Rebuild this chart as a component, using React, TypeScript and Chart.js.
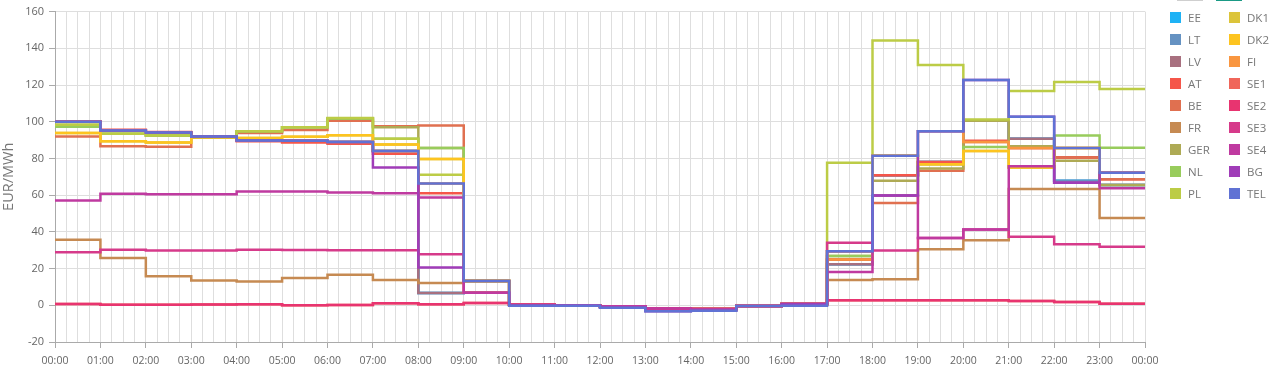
import React, { useEffect, useRef } from 'react';
import { Chart, registerables } from 'chart.js';

Chart.register(...registerables);

// x tick labels (one per hour boundary)
const X_LABELS = [
  '00:00', '01:00', '02:00', '03:00', '04:00', '05:00', '06:00', '07:00', '08:00',
  '09:00', '10:00', '11:00', '12:00', '13:00', '14:00', '15:00', '16:00', '17:00',
  '18:00', '19:00', '20:00', '21:00', '22:00', '23:00', '00:00',
];

const SERIES_NAMES = ['EE', 'LT', 'LV', 'AT', 'BE', 'FR', 'GER', 'NL', 'PL', 'DK1', 'DK2', 'FI', 'SE1', 'SE2', 'SE3', 'SE4', 'BG', 'TEL'];
const SERIES_COLORS = [
  '#1eb2f5', '#6592c2', '#a8707f', '#f5564a', '#e07050', '#c68a52', '#aeaa55', '#98cc5c', '#bccc46',
  '#dcc43a', '#fdc420', '#f99640', '#f0665a', '#e83470', '#d63a8a', '#bf3aa0', '#a03cb8', '#6072d4',
];

// hourly prices, EUR/MWh (hours 00..23)
const EE = [100.0, 95.2, 94.1, 92.0, 89.8, 89.6, 89.0, 84.0, 6.7, 6.8, 0.2, 0.0, -0.5, -1.8, -2.0, -0.4, 0.7, 22.4, 70.8, 78.1, 100.5, 90.7, 67.9, 65.6];
const LT = [100.0, 95.2, 94.1, 92.0, 89.8, 89.6, 89.0, 84.0, 6.7, 6.8, 0.2, 0.0, -0.5, -1.8, -2.0, -0.4, 0.7, 22.4, 70.8, 78.1, 100.5, 90.7, 67.9, 65.6];
const LV = [100.0, 95.2, 94.1, 92.0, 89.8, 89.6, 89.0, 84.0, 6.7, 6.8, 0.2, 0.0, -0.5, -1.8, -2.0, -0.4, 0.7, 22.4, 70.8, 78.1, 100.5, 90.7, 80.5, 65.6];
const AT = [100.3, 95.6, 94.4, 91.5, 89.3, 88.7, 88.0, 82.6, 61.0, 13.3, 0.2, 0.0, -0.5, -1.8, -2.0, -0.4, 0.7, 25.0, 70.8, 78.1, 89.6, 85.7, 80.5, 68.6];
const BE = [92.0, 86.7, 86.4, 91.5, 93.9, 95.5, 100.6, 97.5, 98.0, 13.3, 0.2, 0.0, -0.5, -1.8, -2.0, -0.4, 0.7, 25.0, 55.7, 73.3, 88.9, 85.7, 80.5, 68.6];
const FR = [35.7, 25.7, 15.8, 13.5, 12.9, 14.9, 16.7, 13.8, 12.2, 13.3, 0.2, 0.0, -0.5, -1.8, -2.0, -0.4, 0.7, 13.8, 14.2, 30.5, 35.4, 63.4, 63.4, 47.6];
const GER = [98.3, 93.4, 92.5, 91.5, 94.8, 97.0, 101.8, 97.0, 85.7, 13.3, 0.2, 0.0, -0.5, -1.8, -2.0, -0.4, 0.7, 26.8, 67.9, 74.5, 100.5, 86.7, 78.7, 65.6];
const NL = [97.3, 93.4, 92.5, 91.5, 94.8, 97.0, 101.8, 90.7, 85.7, 13.3, 0.2, 0.0, -0.5, -1.8, -2.0, -0.4, 0.7, 26.8, 59.8, 76.9, 86.2, 75.0, 92.5, 85.8];
const PL = [98.3, 93.4, 92.5, 91.5, 94.8, 97.0, 102.0, 90.7, 71.1, 13.3, 0.2, 0.0, -0.5, -1.8, -2.0, -0.4, 0.7, 77.6, 144.2, 130.9, 101.2, 116.7, 121.7, 117.8];
const DK1 = [93.9, 89.3, 88.7, 91.5, 91.2, 91.8, 92.7, 87.6, 79.7, 13.3, 0.2, 0.0, -0.5, -1.8, -2.0, -0.4, 0.7, 29.5, 81.5, 76.9, 84.0, 75.0, 85.7, 72.2];
const DK2 = [93.9, 89.3, 88.7, 91.5, 91.2, 91.8, 92.7, 87.6, 79.7, 13.3, 0.2, 0.0, -0.5, -1.8, -2.0, -0.4, 0.7, 29.5, 81.5, 76.9, 84.0, 75.0, 85.7, 72.2];
const FI = [100.0, 95.2, 94.1, 92.0, 89.8, 89.6, 89.0, 84.0, 66.4, 6.8, 0.2, 0.0, -0.5, -1.8, -2.0, -0.4, 0.7, 25.0, 81.5, 94.8, 88.9, 85.7, 85.7, 72.2];
const SE1 = [0.7, 0.3, 0.3, 0.4, 0.5, 0.0, 0.2, 1.1, 0.5, 1.2, 0.4, 0.0, -0.5, -1.8, -2.0, -0.4, 0.7, 2.7, 2.7, 2.7, 2.7, 2.4, 1.8, 0.9];
const SE2 = [0.7, 0.3, 0.3, 0.4, 0.5, 0.0, 0.2, 1.1, 0.5, 1.2, 0.4, 0.0, -0.5, -1.8, -2.0, -0.4, 0.7, 2.7, 2.7, 2.7, 2.7, 2.4, 1.8, 0.9];
const SE3 = [28.9, 30.2, 29.8, 29.8, 30.3, 30.1, 30.0, 30.0, 27.8, 6.8, 0.2, 0.0, -0.5, -1.8, -2.0, -0.4, 0.7, 34.1, 29.8, 36.6, 41.3, 37.3, 33.2, 31.9];
const SE4 = [57.1, 60.7, 60.5, 60.5, 62.0, 62.0, 61.5, 61.0, 58.7, 6.8, 0.2, 0.0, -0.5, -1.8, -2.0, -0.4, 0.7, 18.1, 59.8, 36.6, 41.3, 75.8, 66.8, 63.7];
const BG = [100.0, 95.2, 94.1, 92.0, 89.8, 89.6, 89.0, 75.0, 20.6, 13.3, -0.2, -0.2, -1.4, -3.2, -3.0, -0.4, 0.7, 29.5, 59.8, 94.8, 122.7, 102.7, 66.8, 72.2];
const TEL = [100.0, 95.2, 94.1, 92.0, 89.8, 89.6, 89.0, 84.0, 66.4, 13.3, -0.2, -0.2, -1.4, -3.2, -3.0, -0.4, -0.3, 29.5, 81.5, 94.8, 122.7, 102.7, 85.7, 72.2];

const SERIES_VALUES = [EE, LT, LV, AT, BE, FR, GER, NL, PL, DK1, DK2, FI, SE1, SE2, SE3, SE4, BG, TEL];

const Y_MIN = -20;
const Y_MAX = 160;
const Y_STEP = 20;

const FONT = "'Open Sans', 'DejaVu Sans', sans-serif";

function toPoints(values: number[]) {
  const pts = values.map((v, i) => ({ x: i, y: v }));
  pts.push({ x: values.length, y: values[values.length - 1] });
  return pts;
}

export default function App() {
  const canvasRef = useRef<HTMLCanvasElement | null>(null);

  useEffect(() => {
    if (!canvasRef.current) return;
    const n = SERIES_NAMES.length;
    const chart = new Chart(canvasRef.current, {
      type: 'line',
      data: {
        datasets: SERIES_NAMES.map((name, i) => ({
          label: name,
          data: toPoints(SERIES_VALUES[i]),
          borderColor: SERIES_COLORS[i],
          backgroundColor: SERIES_COLORS[i],
          borderWidth: 2.5,
          pointRadius: 0,
          stepped: true,
          fill: false,
          order: n - 1 - i,
        })),
      },
      options: {
        animation: false,
        responsive: true,
        maintainAspectRatio: false,
        layout: { padding: { top: 8, right: 135, bottom: 0, left: 0 } },
        plugins: { legend: { display: false }, tooltip: { enabled: false } },
        scales: {
          x: {
            type: 'linear',
            min: 0,
            max: 24,
            afterFit: (s: any) => { s.height = 24; },
            grid: {
              color: '#dedede',
              lineWidth: 1,
              drawTicks: true,
              tickLength: 6,
              tickColor: (ctx: any) => (ctx.tick && Number.isInteger(ctx.tick.value) ? '#aaaaaa' : 'rgba(0,0,0,0)'),
            },
            border: { color: '#aaaaaa' },
            ticks: {
              stepSize: 0.25,
              autoSkip: false,
              maxRotation: 0,
              minRotation: 0,
              padding: 7,
              color: '#666',
              font: { family: FONT, size: 10.5 },
              callback: (v: any) => (Number.isInteger(v) ? X_LABELS[v] : ''),
            },
          },
          y: {
            min: Y_MIN,
            max: Y_MAX,
            afterFit: (s: any) => { s.width = 55; },
            grid: { color: '#dedede', tickLength: 6, tickColor: '#aaaaaa' },
            border: { color: '#aaaaaa' },
            ticks: { stepSize: Y_STEP, padding: 5, color: '#666', font: { family: FONT, size: 11 } },
            title: { display: true, text: 'EUR/MWh', color: '#777', font: { family: FONT, size: 14.5 }, padding: { top: 0, bottom: 0 } },
          },
        },
      },
    });
    return () => chart.destroy();
  }, []);

  const rows = Math.ceil(SERIES_NAMES.length / 2);

  return (
    <div style={{ position: 'fixed', left: 0, top: 0, width: 1280, height: 366, background: '#fff', overflow: 'hidden' }}>
      <div style={{ position: 'absolute', left: 0, top: 0, width: 1280, height: 366 }}>
        <canvas ref={canvasRef} />
      </div>
      <div style={{ position: 'absolute', left: 1177, top: 0, width: 26, height: 1, background: '#cfcfcf' }} />
      <div style={{ position: 'absolute', left: 1216, top: 0, width: 26, height: 1, background: '#1a9a85' }} />
      {SERIES_NAMES.map((name, i) => {
        const col = Math.floor(i / rows);
        const row = i % rows;
        const left = col === 0 ? 1170 : 1229;
        const top = 12 + row * 22;
        return (
          <div key={name} style={{ position: 'absolute', left, top, height: 11, display: 'flex', alignItems: 'center', whiteSpace: 'nowrap' }}>
            <span style={{ display: 'inline-block', width: 11, height: 11, background: SERIES_COLORS[i] }} />
            <span style={{ marginLeft: 7, fontFamily: FONT, fontSize: 11.5, color: '#777', lineHeight: '11px' }}>{name}</span>
          </div>
        );
      })}
    </div>
  );
}
